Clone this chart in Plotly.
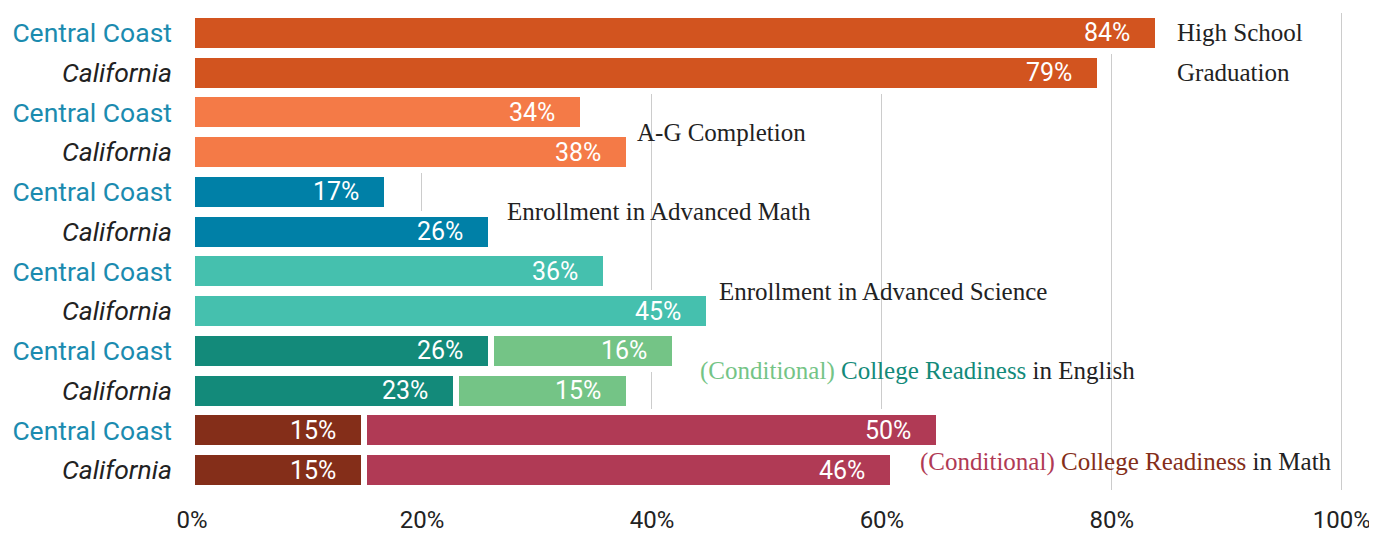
import plotly.graph_objects as go

# ---- data ----
categories = ["High School Graduation", "A-G Completion", "Enrollment in Advanced Math",
              "Enrollment in Advanced Science", "College Readiness in English",
              "College Readiness in Math"]
central_coast = [84, 34, 17, 36, 26, 15]
california = [79, 38, 26, 45, 23, 15]
conditional_central_coast = [None, None, None, None, 16, 50]
conditional_california = [None, None, None, None, 15, 46]
x_ticks = [0, 20, 40, 60, 80, 100]
x_tick_labels = ["0%", "20%", "40%", "60%", "80%", "100%"]

# ---- styles ----
main_colors = ["#D2541F", "#F47A47", "#0080A7", "#45C0AE", "#138A7A", "#842E19"]
cond_colors = [None, None, None, None, "#74C486", "#B03A55"]
cc_color = "#1B8BAF"
dark = "#222222"
sans = "Roboto, Arial, sans-serif"
serif = "Liberation Serif, Times New Roman, serif"

rows, vals, colors, labels = [], [], [], []
c_rows, c_vals, c_base, c_colors = [], [], [], []
for g in range(len(categories)):
    for k, (series, cond) in enumerate([(central_coast, conditional_central_coast),
                                         (california, conditional_california)]):
        r = 2 * g + k
        rows.append(r)
        vals.append(series[g])
        colors.append(main_colors[g])
        labels.append(f"<span style='color:{cc_color}'>Central Coast</span>" if k == 0
                      else "<i>California</i>")
        if cond[g] is not None:
            c_rows.append(r)
            c_vals.append(cond[g])
            c_base.append(series[g])
            c_colors.append(cond_colors[g])

totals = []
for r, v in zip(rows, vals):
    extra = sum(cv for cr, cv in zip(c_rows, c_vals) if cr == r)
    totals.append(v + extra)

fig = go.Figure()
# white full-band backgrounds (hide gridlines behind bars' bands)
fig.add_trace(go.Bar(y=rows, x=totals, orientation="h", width=1,
                     marker=dict(color="white", line=dict(width=0)),
                     hoverinfo="skip", showlegend=False))
fig.add_trace(go.Bar(y=rows, x=vals, orientation="h", width=0.9,
                     marker=dict(color=colors, line=dict(color="white", width=6)),
                     showlegend=False))
fig.add_trace(go.Bar(y=c_rows, x=c_vals, base=c_base, orientation="h", width=0.9,
                     marker=dict(color=c_colors, line=dict(color="white", width=6)),
                     showlegend=False))

annotations = []
for r, v in zip(rows, vals):
    annotations.append(dict(x=v, y=r, text=f"{v}%", showarrow=False, xanchor="right",
                            xshift=-26, font=dict(family=sans, size=25, color="white")))
for r, v, b in zip(c_rows, c_vals, c_base):
    annotations.append(dict(x=b + v, y=r, text=f"{v}%", showarrow=False, xanchor="right",
                            xshift=-26, font=dict(family=sans, size=25, color="white")))

group_text = [
    (85.5, 0, "High School"),
    (85.5, 1, "Graduation"),
    (38.5, 2.5, "A-G Completion"),
    (27.2, 4.5, "Enrollment in Advanced Math"),
    (45.7, 6.5, "Enrollment in Advanced Science"),
    (44.0, 8.5, "<span style='color:#74C486'>(Conditional)</span> "
                "<span style='color:#138A7A'>College Readiness</span> in English"),
    (63.1, 10.8, "<span style='color:#B03A55'>(Conditional)</span> "
                 "<span style='color:#842E19'>College Readiness</span> in Math"),
]
for x, y, t in group_text:
    annotations.append(dict(x=x, y=y, text=t, showarrow=False, xanchor="left",
                            yanchor="middle", font=dict(family=serif, size=25, color=dark)))

# page body adds an 8px margin, so size the figure to fit the 1377x534 window
fig.update_layout(
    width=1369, height=526,
    margin=dict(l=184, r=34, t=5, b=44),
    plot_bgcolor="white", paper_bgcolor="white",
    barmode="overlay",
    bargap=0,
    annotations=annotations,
    xaxis=dict(range=[0, 100.1], tickvals=x_ticks, ticktext=x_tick_labels, automargin=False,
               showgrid=True, gridcolor="#cccccc", gridwidth=1, zeroline=False,
               showline=False, ticks="", ticklabelstandoff=13,
               tickfont=dict(family=sans, size=24, color=dark)),
    yaxis=dict(range=[11.5, -0.5], tickvals=rows, ticktext=labels, showgrid=False,
               automargin=False, zeroline=False, showline=False, ticks="",
               ticklabelstandoff=19, tickfont=dict(family=sans, size=26.5, color=dark)),
)

fig.write_html("out.html")
